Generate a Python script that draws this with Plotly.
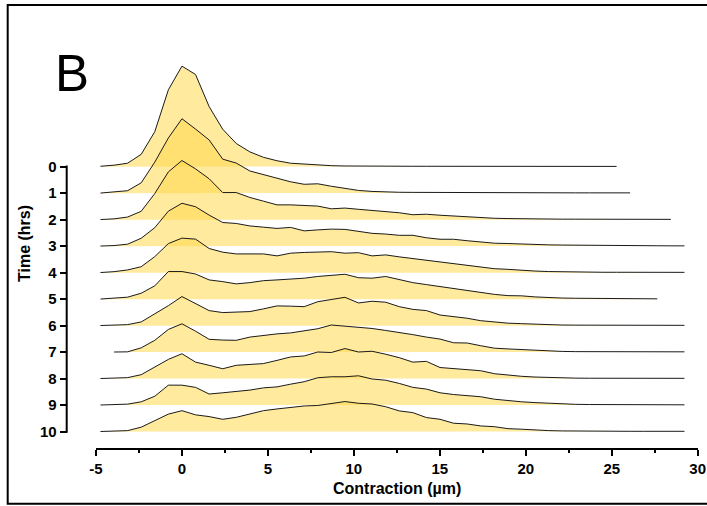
import plotly.graph_objects as go

# Histogram bins of contraction (µm); bin k is centred at k * BIN_WIDTH
BIN_WIDTH = 0.79
hours = list(range(11))
hour_labels = [str(h) for h in hours]
first_bin = [-6, -6, -6, -6, -6, -6, -6, -5, -6, -6, -6]

# Relative frequency (% of cells) per bin, one list per time point
freq_0h = [0.08, 0.3, 0.7, 2.5, 7.1, 15.6, 20.4, 18.7, 12.2, 7.6, 4.7, 3.0, 1.9, 1.2, 0.7,
           0.5, 0.3, 0.2, 0.14, 0.1, 0.1, 0.09, 0.09, 0.08, 0.08, 0.08, 0.07, 0.07, 0.07,
           0.06, 0.06, 0.06, 0.06, 0.06, 0.05, 0.05, 0.05, 0.05, 0.05]
freq_1h = [0.02, 0.2, 0.5, 2.1, 6.3, 11.2, 15.1, 13.0, 10.8, 6.9, 6.1, 4.5, 3.8, 3.1, 2.3,
           1.8, 1.9, 1.4, 0.9, 0.55, 0.35, 0.22, 0.18, 0.16, 0.14, 0.14, 0.12, 0.12, 0.1,
           0.1, 0.1, 0.08, 0.08, 0.08, 0.08, 0.06, 0.06, 0.06, 0.06, 0.06]
freq_2h = [0.02, 0.16, 0.53, 1.7, 5.3, 9.7, 12.0, 10.3, 8.3, 5.5, 5.5, 4.5, 3.75, 3.0, 3.0,
           2.9, 2.75, 2.2, 2.35, 2.1, 1.9, 1.55, 1.4, 1.0, 1.1, 0.9, 0.73, 0.55, 0.4, 0.28,
           0.22, 0.16, 0.14, 0.12, 0.1, 0.1, 0.08, 0.08, 0.08, 0.06, 0.06, 0.06, 0.06]
freq_3h = [0.02, 0.12, 0.4, 1.6, 3.75, 7.1, 8.7, 8.0, 6.3, 4.8, 4.6, 4.1, 3.85, 3.6, 3.8,
           3.1, 3.3, 3.45, 3.4, 3.0, 2.6, 2.45, 2.2, 2.2, 1.7, 1.4, 1.4, 1.1, 0.85, 0.6,
           0.53, 0.4, 0.32, 0.26, 0.22, 0.18, 0.14, 0.12, 0.1, 0.1, 0.08, 0.08, 0.06, 0.06]
freq_4h = [0.02, 0.2, 0.55, 1.2, 3.25, 5.9, 7.0, 6.8, 4.9, 4.15, 3.8, 3.75, 3.8, 3.4, 3.95,
           4.1, 4.25, 4.25, 3.95, 4.05, 3.4, 3.6, 3.2, 2.85, 2.45, 2.1, 1.7, 1.35, 1.05, 0.8,
           0.67, 0.43, 0.32, 0.22, 0.16, 0.12, 0.1, 0.08, 0.08, 0.06, 0.06, 0.06, 0.06, 0.06]
freq_5h = [0.02, 0.16, 0.4, 1.2, 2.7, 5.6, 5.6, 5.1, 3.9, 3.55, 3.1, 3.35, 3.75, 3.9, 4.05,
           4.25, 4.6, 4.8, 5.05, 4.35, 4.25, 4.6, 3.95, 3.35, 2.95, 2.55, 2.15, 1.75, 1.3,
           0.97, 0.71, 0.67, 0.45, 0.3, 0.22, 0.18, 0.14, 0.12, 0.1, 0.08, 0.08, 0.06]
freq_6h = [0.02, 0.1, 0.2, 0.75, 2.4, 4.05, 5.9, 4.4, 3.05, 2.65, 2.7, 2.85, 3.4, 4.0, 3.95,
           3.85, 4.85, 5.3, 5.75, 4.6, 4.95, 4.75, 3.85, 3.3, 3.05, 2.15, 1.9, 1.5, 1.0,
           0.71, 0.5, 0.4, 0.26, 0.18, 0.12, 0.1, 0.08, 0.06, 0.06, 0.06, 0.06, 0.06, 0.06, 0.06]
freq_7h = [0.02, 0.06, 0.87, 2.4, 4.6, 5.75, 4.25, 2.6, 2.45, 2.4, 3.05, 3.4, 3.7, 3.9, 4.25,
           4.75, 5.5, 5.3, 4.95, 4.8, 4.4, 4.05, 3.55, 3.05, 2.65, 1.9, 1.85, 1.3, 0.8, 0.65,
           0.49, 0.32, 0.2, 0.14, 0.1, 0.08, 0.06, 0.06, 0.06, 0.06, 0.06, 0.06, 0.06]
freq_8h = [0.02, 0.08, 0.2, 0.8, 2.35, 3.9, 5.05, 3.35, 2.7, 2.0, 2.7, 2.9, 3.05, 3.7, 4.4,
           4.6, 5.4, 5.3, 6.1, 5.4, 5.55, 4.95, 4.25, 3.35, 3.5, 2.25, 2.0, 1.8, 1.6, 1.0,
           0.71, 0.47, 0.32, 0.2, 0.14, 0.1, 0.08, 0.06, 0.06, 0.06, 0.06, 0.06, 0.06, 0.06]
freq_9h = [0.02, 0.08, 0.2, 0.67, 1.8, 4.05, 4.05, 3.6, 2.25, 2.5, 2.7, 3.05, 3.5, 3.7, 4.25,
           4.75, 5.55, 5.75, 5.75, 5.95, 5.3, 5.05, 4.4, 3.6, 3.25, 2.5, 2.15, 1.9, 1.7, 1.2,
           0.91, 0.67, 0.51, 0.37, 0.24, 0.16, 0.12, 0.1, 0.08, 0.08, 0.06, 0.06, 0.06, 0.06]
freq_10h = [0.02, 0.08, 0.2, 0.9, 2.25, 3.55, 4.25, 3.4, 3.05, 2.5, 2.9, 3.55, 4.25, 4.6, 4.9,
            5.2, 5.3, 5.7, 6.1, 5.75, 5.6, 5.05, 4.2, 3.85, 2.85, 2.5, 1.7, 1.55, 1.15, 1.0,
            0.6, 0.49, 0.32, 0.2, 0.14, 0.1, 0.08, 0.06, 0.06, 0.06, 0.06, 0.06, 0.06, 0.06]

freqs = [freq_0h, freq_1h, freq_2h, freq_3h, freq_4h, freq_5h,
         freq_6h, freq_7h, freq_8h, freq_9h, freq_10h]

x_ticks = [-5, 0, 5, 10, 15, 20, 25, 30]

RIDGE_SCALE = 0.186          # ridge spacings per 1 % frequency
FILL = "rgba(255, 215, 71, 0.53)"
FONT = "Liberation Sans, Arial, sans-serif"

fig = go.Figure()

for hour, start, values in zip(hours, first_bin, freqs):
    xs = [round((start + j) * BIN_WIDTH, 4) for j in range(len(values))]
    ys = [hour - RIDGE_SCALE * v for v in values]
    # filled area between the ridge baseline and the curve
    fig.add_trace(go.Scatter(
        x=xs + [xs[-1], xs[0]], y=ys + [hour, hour],
        mode="lines", fill="toself", fillcolor=FILL,
        line=dict(width=0), hoverinfo="skip", showlegend=False))
    # outline of the distribution
    fig.add_trace(go.Scatter(
        x=xs, y=ys, mode="lines",
        line=dict(color="#1a1a1a", width=1),
        showlegend=False, name=f"{hour} h"))

W, H = 707, 506
fig.update_layout(
    template="none",
    width=W, height=H, autosize=False,
    margin=dict(l=0, r=0, t=0, b=0, pad=0),
    paper_bgcolor="white", plot_bgcolor="white",
    showlegend=False,
    font=dict(family=FONT, color="black"),
    xaxis=dict(
        domain=[96 / W, 697.7 / W], range=[-5, 30], automargin=False,
        tickvals=x_ticks, ticktext=[str(t) for t in x_ticks],
        ticks="outside", ticklen=6, tickwidth=2, tickcolor="black",
        showline=True, linewidth=2, linecolor="black",
        showgrid=False, zeroline=False,
        tickfont=dict(size=15, weight="bold", family=FONT, color="black"),
        minor=dict(ticks="outside", ticklen=3, tickwidth=2, tickcolor="black",
                   dtick=2.5, tick0=-5, showgrid=False),
    ),
    yaxis=dict(
        domain=[(H - 448.3) / H, (H - 10) / H], range=[10.63, -5.913], automargin=False,
        anchor="free", position=66.7 / W,
        tickvals=hours, ticktext=hour_labels,
        ticks="outside", ticklen=7, tickwidth=2, tickcolor="black",
        showline=False, showgrid=False, zeroline=False,
        tickfont=dict(size=15, weight="bold", family=FONT, color="black"),
    ),
    shapes=[
        # vertical axis line spanning the time points only
        dict(type="line", xref="paper", yref="y", x0=66.7 / W, x1=66.7 / W,
             y0=-0.04, y1=10.04, line=dict(color="black", width=2)),
        # panel frame
        dict(type="rect", xref="paper", yref="paper",
             x0=7.7 / W, x1=1.02, y0=(H - 503.7) / H, y1=(H - 5) / H,
             line=dict(color="black", width=2), fillcolor="rgba(0,0,0,0)"),
    ],
    annotations=[
        dict(text="B", x=72 / W, y=(H - 73) / H, xref="paper", yref="paper",
             showarrow=False, xanchor="center", yanchor="middle",
             font=dict(size=51, family=FONT, color="black")),
        dict(text="Time (hrs)", x=24 / W, y=(H - 244) / H, xref="paper", yref="paper",
             showarrow=False, textangle=-90, xanchor="center", yanchor="middle",
             font=dict(size=16, weight="bold", family=FONT, color="black")),
        dict(text="Contraction (µm)", x=397 / W, y=(H - 488) / H, xref="paper", yref="paper",
             showarrow=False, xanchor="center", yanchor="middle",
             font=dict(size=16, weight="bold", family=FONT, color="black")),
    ],
)

fig.write_html("out.html")
